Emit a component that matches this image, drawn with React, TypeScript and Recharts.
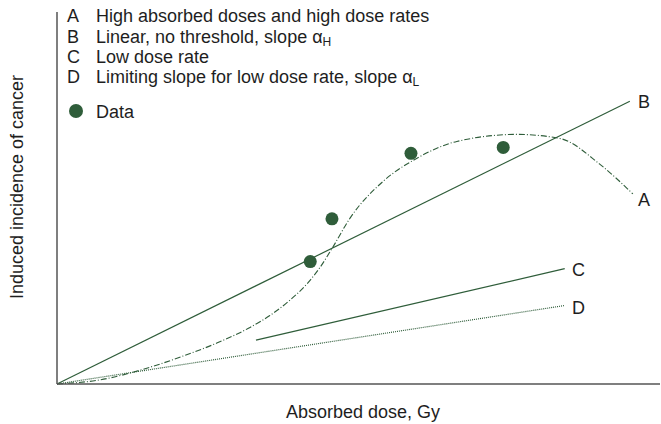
import { ComposedChart, Line, Scatter, XAxis, YAxis } from 'recharts';

// dose and incidence in arbitrary units (0-100 on both axes)
const curveA = [
  { dose: 0, incidence: 0 },
  { dose: 7.1, incidence: 1.1 },
  { dose: 15.4, incidence: 4.5 },
  { dose: 20.9, incidence: 7.5 },
  { dose: 26.5, incidence: 11.0 },
  { dose: 32.0, incidence: 15.2 },
  { dose: 35.3, incidence: 18.4 },
  { dose: 38.6, incidence: 22.5 },
  { dose: 41.5, incidence: 27.0 },
  { dose: 43.6, incidence: 31.3 },
  { dose: 45.6, incidence: 36.4 },
  { dose: 48.6, incidence: 44.6 },
  { dose: 54.1, incidence: 54.5 },
  { dose: 59.7, incidence: 60.7 },
  { dose: 66.3, incidence: 65.2 },
  { dose: 76.3, incidence: 67.1 },
  { dose: 83.4, incidence: 66.0 },
  { dose: 90.0, incidence: 59.1 },
  { dose: 95.5, incidence: 51.1 },
];

const lineB = [
  { dose: 0, incidence: 0 },
  { dose: 95, incidence: 76 },
];

const lineC = [
  { dose: 33, incidence: 11.8 },
  { dose: 84.2, incidence: 31 },
];

const lineD = [
  { dose: 0, incidence: 0 },
  { dose: 84.2, incidence: 21.1 },
];

const points = [
  { dose: 42, incidence: 32.9 },
  { dose: 45.6, incidence: 44.4 },
  { dose: 58.7, incidence: 62 },
  { dose: 74, incidence: 63.6 },
];

const legendItems = [
  { key: 'A', text: 'High absorbed doses and high dose rates', sub: '' },
  { key: 'B', text: 'Linear, no threshold, slope \u03b1', sub: 'H' },
  { key: 'C', text: 'Low dose rate', sub: '' },
  { key: 'D', text: 'Limiting slope for low dose rate, slope \u03b1', sub: 'L' },
];
const legendTops = [6.7, 27.7, 47.8, 68.3];

const GREEN = '#2f5d3a';
const FONT = 'Arial, "Liberation Sans", Helvetica, sans-serif';

const txt = (left: number, top: number, size = 18): React.CSSProperties => ({
  position: 'absolute',
  left,
  top,
  fontSize: size,
  color: '#1e1e1e',
  lineHeight: 1,
  whiteSpace: 'nowrap',
});

export default function App() {
  return (
    <div style={{ position: 'absolute', left: 0, top: 0, width: 661, height: 424, fontFamily: FONT, background: '#fff' }}>
      <ComposedChart width={661} height={424} margin={{ top: 12, right: 1, left: 56, bottom: 39 }}>
        <XAxis type="number" dataKey="dose" domain={[0, 100]} tick={false} height={1}
          axisLine={{ stroke: '#555', strokeWidth: 1.5 }} tickLine={false} />
        <YAxis type="number" dataKey="incidence" domain={[0, 100]} tick={false} width={1}
          axisLine={{ stroke: '#555', strokeWidth: 1.5 }} tickLine={false} />
        <Line data={lineD} dataKey="incidence" stroke={GREEN} strokeWidth={1.2} strokeDasharray="1 1"
          dot={false} isAnimationActive={false} />
        <Line data={lineC} dataKey="incidence" stroke={GREEN} strokeWidth={1.3} dot={false} isAnimationActive={false} />
        <Line data={lineB} dataKey="incidence" stroke={GREEN} strokeWidth={1.2} dot={false} isAnimationActive={false} />
        <Line data={curveA} dataKey="incidence" type="monotone" stroke={GREEN} strokeWidth={1.1}
          strokeDasharray="6 2 1 2" dot={false} isAnimationActive={false} />
        <Scatter data={points} dataKey="incidence" fill={GREEN} shape={(p: any) => (
          <circle cx={p.cx} cy={p.cy} r={6.5} fill={GREEN} />
        )} isAnimationActive={false} />
      </ComposedChart>

      {legendItems.map((it, i) => (
        <div key={it.key}>
          <div style={txt(67, legendTops[i])}>{it.key}</div>
          <div style={txt(96, legendTops[i])}>
            {it.text}
            {it.sub && <sub style={{ fontSize: 12, verticalAlign: -3, lineHeight: 0 }}>{it.sub}</sub>}
          </div>
        </div>
      ))}
      <div style={{ position: 'absolute', left: 69, top: 104, width: 14, height: 14, borderRadius: '50%', background: GREEN }} />
      <div style={txt(96, 102.7)}>Data</div>

      <div style={txt(638, 93)}>B</div>
      <div style={txt(638, 191)}>A</div>
      <div style={txt(572, 261)}>C</div>
      <div style={txt(572, 299)}>D</div>

      <div style={txt(286, 403)}>Absorbed dose, Gy</div>
      <div style={{ ...txt(17, 187), transform: 'translate(-50%, -50%) rotate(-90deg)' }}>Induced incidence of cancer</div>
    </div>
  );
}
